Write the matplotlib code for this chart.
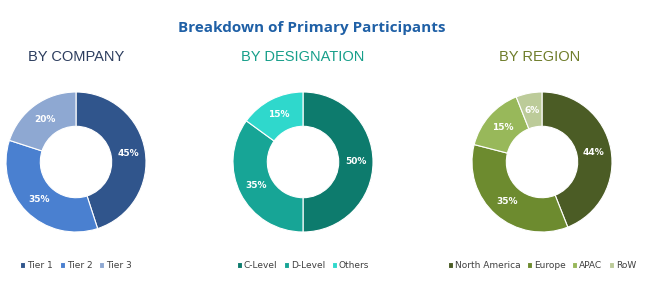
import numpy as np
import matplotlib.pyplot as plt

# data
company_labels = ["Tier 1", "Tier 2", "Tier 3"]
company_values = [45, 35, 20]
company_colors = ["#30558c", "#4a80d0", "#8ea8d2"]

design_labels = ["C-Level", "D-Level", "Others"]
design_values = [50, 35, 15]
design_colors = ["#0d7b6d", "#17a596", "#2fd8cc"]

region_labels = ["North America", "Europe", "APAC", "RoW"]
region_values = [44, 35, 15, 6]
region_colors = ["#4b5c25", "#6d8b2f", "#98b85a", "#bccb99"]

W, H = 650, 281
fig = plt.figure(figsize=(W / 100, H / 100), dpi=100)
fig.patch.set_facecolor("white")

fig.text(312 / W, 1 - 28 / H, "Breakdown of Primary Participants", ha="center", va="center",
         fontsize=11, fontweight="bold", color="#1f60a6", family=["Open Sans", "DejaVu Sans"])

narrow = ["Liberation Sans Narrow", "Liberation Sans", "DejaVu Sans"]
panels = [
    ("BY COMPANY", "#2c3d5e", 76, 76, company_labels, company_values, company_colors),
    ("BY DESIGNATION", "#179f8a", 303, 303, design_labels, design_values, design_colors),
    ("BY REGION", "#6f7d2b", 540, 542, region_labels, region_values, region_colors),
]

R = 70  # outer radius in px
cy = 162
for title, tcol, tx, cx, labels, values, colors in panels:
    fig.text(tx / W, 1 - 57 / H, title, ha="center", va="center", fontsize=10.5,
             color=tcol, family=narrow)
    ax = fig.add_axes([(cx - R) / W, (H - cy - R) / H, 2 * R / W, 2 * R / H])
    wedges, _ = ax.pie(values, colors=colors, startangle=90, counterclock=False,
                       radius=1, wedgeprops=dict(width=0.49, edgecolor="white", linewidth=0.8))
    for w, v in zip(wedges, values):
        ang = np.deg2rad((w.theta1 + w.theta2) / 2)
        ax.text(0.755 * np.cos(ang), 0.755 * np.sin(ang), f"{v}%", ha="center", va="center",
                fontsize=6.5, fontweight="bold", color="white")
    ax.set_xlim(-1, 1)
    ax.set_ylim(-1, 1)
    ax.set_aspect("equal")
    ax.axis("off")
    ax.legend(wedges, labels, loc="center", bbox_to_anchor=(0.5, -0.24), ncol=len(labels),
              frameon=False, fontsize=6.5, handlelength=0.55, handleheight=0.55,
              handletextpad=0.25, columnspacing=0.7, labelcolor="#404040")

fig.savefig("out.png", dpi=100)
